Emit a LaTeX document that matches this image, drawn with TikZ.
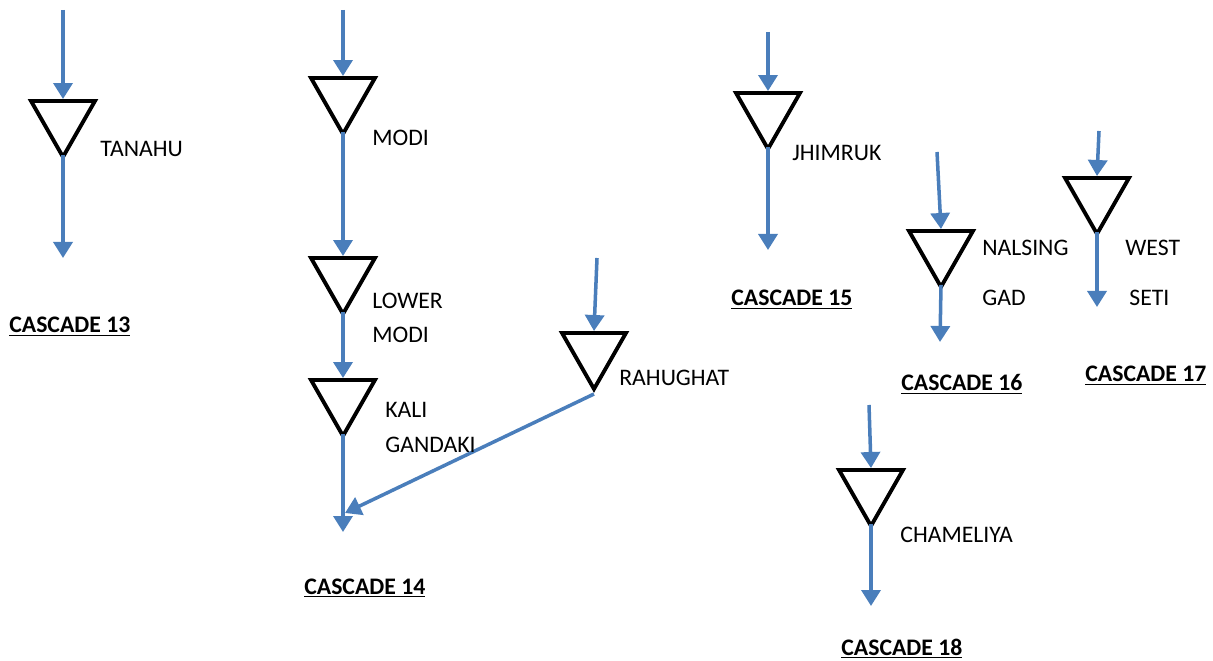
\documentclass[tikz,border=0pt]{standalone}
\usepackage{fontspec}
\setmainfont{Carlito}
\usetikzlibrary{shapes.geometric,arrows.meta}
\definecolor{riverblue}{HTML}{4A7EBB}
\begin{document}
\begin{tikzpicture}[
  x=0.02cm, y=-0.02cm,
  dam/.style={isosceles triangle, isosceles triangle stretches, shape border rotate=270,
    draw=black, line width=2.2pt, minimum width=1.28cm, minimum height=1.12cm, inner sep=0pt, anchor=apex},
  flow/.style={-{Triangle[width=0.38cm,length=0.32cm]}, draw=riverblue, line width=2pt},
  damname/.style={font=\fontsize{13.5}{16}\selectfont, anchor=base west, inner sep=0pt},
  cascade/.style={font=\fontsize{13.5}{16}\selectfont\bfseries, anchor=base west, inner sep=0pt}
]
\useasboundingbox (0,0) rectangle (1213,661);

% Dams
\node[dam] (tanahu) at (63,162) {};
\node[dam] (modi) at (343,139) {};
\node[dam] (lowermodi) at (343,319) {};
\node[dam] (kali) at (343,441) {};
\node[dam] (rahughat) at (594,394) {};
\node[dam] (jhimruk) at (768,154) {};
\node[dam] (nalsing) at (941,292) {};
\node[dam] (westseti) at (1097,239) {};
\node[dam] (chameliya) at (871,531) {};

% River ends
\coordinate (tanahu-in) at (63,10);
\coordinate (tanahu-out) at (63,258);
\coordinate (modi-in) at (343,10);
\coordinate (kali-out) at (343,532);
\coordinate (rahughat-in) at (597,258);
\coordinate (rahughat-out) at (345,513);
\coordinate (jhimruk-in) at (768,32);
\coordinate (jhimruk-out) at (768,250);
\coordinate (nalsing-in) at (937,152);
\coordinate (nalsing-out) at (940,342);
\coordinate (westseti-in) at (1099,131);
\coordinate (westseti-out) at (1097,307);
\coordinate (chameliya-in) at (869,405);
\coordinate (chameliya-out) at (871,606);

% Cascade 13
\draw[flow] (tanahu-in) -- (tanahu.lower side);
\draw[flow] ([yshift=4pt]tanahu.apex) -- (tanahu-out);

% Cascade 14
\draw[flow] (modi-in) -- (modi.lower side);
\draw[flow] ([yshift=4pt]modi.apex) -- (lowermodi.lower side);
\draw[flow] ([yshift=4pt]lowermodi.apex) -- (kali.lower side);
\draw[flow] ([yshift=4pt]kali.apex) -- (kali-out);
\draw[flow] (rahughat-in) -- (rahughat.lower side);
\draw[flow] (rahughat.apex) -- (rahughat-out);

% Cascades 15 to 18
\draw[flow] (jhimruk-in) -- (jhimruk.lower side);
\draw[flow] ([yshift=4pt]jhimruk.apex) -- (jhimruk-out);
\draw[flow] (nalsing-in) -- (nalsing.lower side);
\draw[flow] ([yshift=4pt]nalsing.apex) -- (nalsing-out);
\draw[flow] (westseti-in) -- (westseti.lower side);
\draw[flow] ([yshift=4pt]westseti.apex) -- (westseti-out);
\draw[flow] (chameliya-in) -- (chameliya.lower side);
\draw[flow] ([yshift=4pt]chameliya.apex) -- (chameliya-out);

% Dam names
\node[damname] (tanahu-name) at (100,157) {TANAHU};
\node[damname] (modi-name) at (372,146) {MODI};
\node[damname] (lowermodi-name1) at (372,309) {LOWER};
\node[damname] (lowermodi-name2) at (372,343) {MODI};
\node[damname] (kali-name1) at (385,418) {KALI};
\node[damname] (kali-name2) at (385,453) {GANDAKI};
\node[damname] (rahughat-name) at (619,386) {RAHUGHAT};
\node[damname] (jhimruk-name) at (792,161) {JHIMRUK};
\node[damname] (nalsing-name1) at (982,256) {NALSING};
\node[damname] (nalsing-name2) at (982,306) {GAD};
\node[damname] (westseti-name1) at (1125,256) {WEST};
\node[damname] (westseti-name2) at (1129,306) {SETI};
\node[damname] (chameliya-name) at (900,542) {CHAMELIYA};

% Cascade titles
\node[cascade] (c13) at (9,333) {\underline{CASCADE 13}};
\node[cascade] (c14) at (304,594) {\underline{CASCADE 14}};
\node[cascade] (c15) at (731,306) {\underline{CASCADE 15}};
\node[cascade] (c16) at (901,391) {\underline{CASCADE 16}};
\node[cascade] (c17) at (1085,382) {\underline{CASCADE 17}};
\node[cascade] (c18) at (841,655) {\underline{CASCADE 18}};

\end{tikzpicture}
\end{document}
